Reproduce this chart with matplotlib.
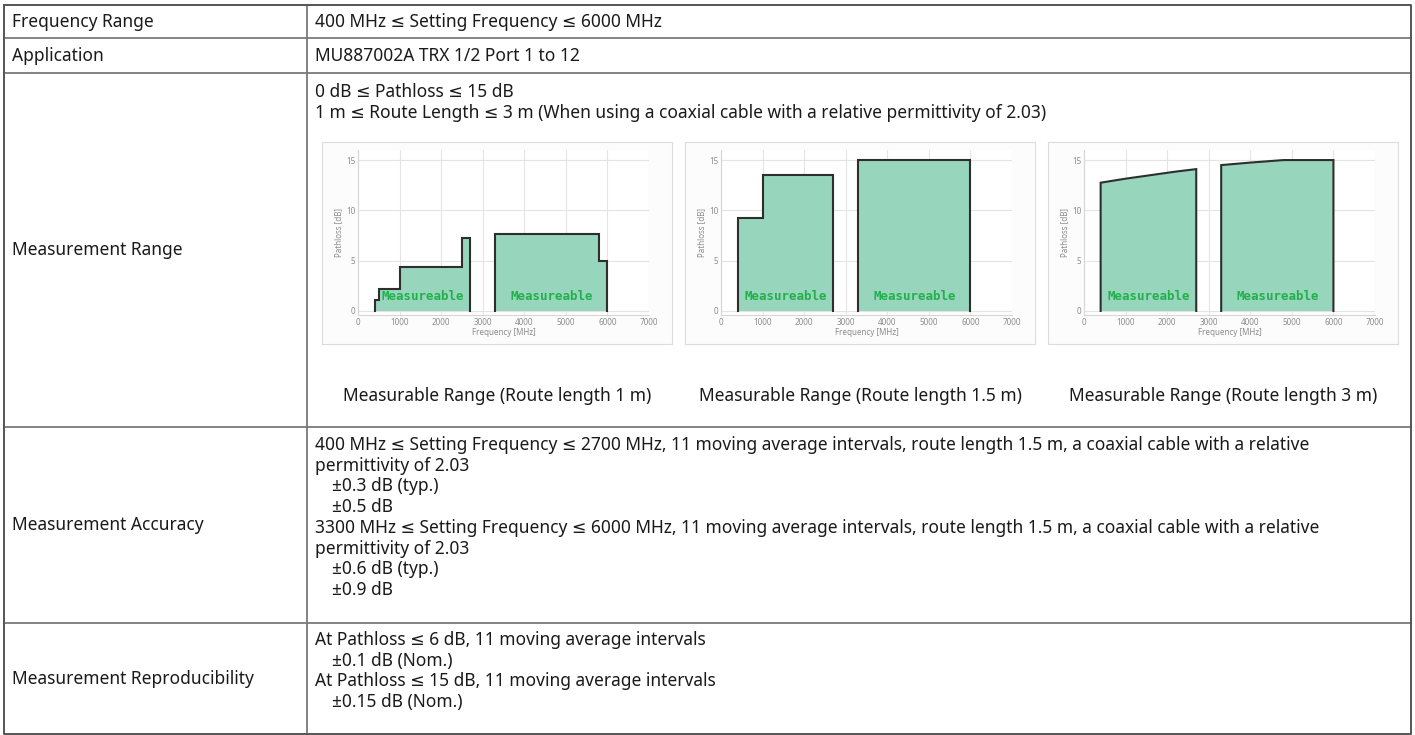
import matplotlib.pyplot as plt

W, H = 1415, 735
plt.rcParams['font.family'] = ['Noto Sans', 'DejaVu Sans']

row_labels = ["Frequency Range", "Application", "Measurement Range",
              "Measurement Accuracy", "Measurement Reproducibility"]
freq_range_lines = ["400 MHz ≤ Setting Frequency ≤ 6000 MHz"]
application_lines = ["MU887002A TRX 1/2 Port 1 to 12"]
range_lines = ["0 dB ≤ Pathloss ≤ 15 dB",
               "1 m ≤ Route Length ≤ 3 m (When using a coaxial cable with a relative permittivity of 2.03)"]
captions = ["Measurable Range (Route length 1 m)",
            "Measurable Range (Route length 1.5 m)",
            "Measurable Range (Route length 3 m)"]
accuracy_lines = [
    "400 MHz ≤ Setting Frequency ≤ 2700 MHz, 11 moving average intervals, route length 1.5 m, a coaxial cable with a relative",
    "permittivity of 2.03",
    "  ±0.3 dB (typ.)",
    "  ±0.5 dB",
    "3300 MHz ≤ Setting Frequency ≤ 6000 MHz, 11 moving average intervals, route length 1.5 m, a coaxial cable with a relative",
    "permittivity of 2.03",
    "  ±0.6 dB (typ.)",
    "  ±0.9 dB"]
repro_lines = ["At Pathloss ≤ 6 dB, 11 moving average intervals",
               "  ±0.1 dB (Nom.)",
               "At Pathloss ≤ 15 dB, 11 moving average intervals",
               "  ±0.15 dB (Nom.)"]

# chart axes
x_ticks = [0, 1000, 2000, 3000, 4000, 5000, 6000, 7000]
y_ticks = [0, 5, 10, 15]
region_text = "Measureable"

# route length 1 m (stepped limits)
m1_low_edges = [400, 500, 1000, 2500, 2700]
m1_low_levels = [1.1, 2.2, 4.4, 7.3]
m1_high_edges = [3300, 5800, 6000]
m1_high_levels = [7.7, 5.0]
# route length 1.5 m
m15_low_edges = [400, 1000, 2700]
m15_low_levels = [9.2, 13.5]
m15_high_edges = [3300, 6000]
m15_high_levels = [15.0]
# route length 3 m (smooth limits)
m3_low_freq = [400, 1000, 1600, 2200, 2700]
m3_low_loss = [12.75, 13.15, 13.5, 13.85, 14.1]
m3_high_freq = [3300, 4000, 4800, 6000]
m3_high_loss = [14.5, 14.75, 15.0, 15.0]


def step_outline(edges, levels):
    xs, ys = [edges[0]], [0]
    for i, lv in enumerate(levels):
        xs += [edges[i], edges[i + 1]]
        ys += [lv, lv]
    xs.append(edges[-1])
    ys.append(0)
    return xs, ys


def curve_outline(freq, loss):
    return [freq[0]] + freq + [freq[-1]], [0] + loss + [0]


charts = [
    [step_outline(m1_low_edges, m1_low_levels), step_outline(m1_high_edges, m1_high_levels)],
    [step_outline(m15_low_edges, m15_low_levels), step_outline(m15_high_edges, m15_high_levels)],
    [curve_outline(m3_low_freq, m3_low_loss), curve_outline(m3_high_freq, m3_high_loss)],
]


def frac(x, y, w, h):
    return [x / W, 1 - (y + h) / H, w / W, h / H]


fig = plt.figure(figsize=(W / 100, H / 100), dpi=100)
fig.patch.set_facecolor('white')

tab = fig.add_axes([0, 0, 1, 1])
tab.set_xlim(0, W)
tab.set_ylim(H, 0)
tab.axis('off')

left, right, top, bottom = 4, 1411, 5, 734
col = 307
row_lines = [38, 73, 427, 623]
line_c = '#7a7a7a'
for y in row_lines:
    tab.plot([left, right], [y, y], color=line_c, lw=1.3)
tab.plot([col, col], [top, bottom], color=line_c, lw=1.3)
tab.plot([left, right, right, left, left], [top, top, bottom, bottom, top], color='#555555', lw=1.4)

fs = 12.5
tc = '#1a1a1a'
label_y = [22, 56, 250, 525, 679]
for lab, y in zip(row_labels, label_y):
    tab.text(12, y, lab, fontsize=fs, color=tc, va='center', ha='left')


def put_lines(lines, y0, step=20.7):
    for i, s in enumerate(lines):
        x = 315
        if s.startswith('  '):
            x += 17
        tab.text(x, y0 + i * step, s.strip(), fontsize=fs, color=tc, va='center', ha='left')


put_lines(freq_range_lines, 22)
put_lines(application_lines, 56)
put_lines(range_lines, 92)
put_lines(accuracy_lines, 445)
put_lines(repro_lines, 640)

fill_c = '#97d5bd'
edge_c = '#2e2e2e'
tick_c = '#8c8c8c'
for i, regions in enumerate(charts):
    px = 322 + 363 * i
    pnl = fig.add_axes(frac(px, 142, 350, 202))
    pnl.set_facecolor('#fcfcfc')
    pnl.set_xticks([])
    pnl.set_yticks([])
    for sp in pnl.spines.values():
        sp.set_color('#dcdcdc')
        sp.set_linewidth(0.8)

    ax = fig.add_axes(frac(px + 36, 150, 291, 165))
    ax.set_facecolor('white')
    ax.set_xlim(0, 7000)
    ax.set_ylim(-0.4, 16)
    ax.set_xticks(x_ticks)
    ax.set_yticks(y_ticks)
    ax.grid(color='#e4e4e4', lw=0.8)
    ax.set_axisbelow(True)
    ax.tick_params(labelsize=5.8, colors=tick_c, length=0, pad=2)
    for side in ['top', 'right']:
        ax.spines[side].set_visible(False)
    for side in ['left', 'bottom']:
        ax.spines[side].set_color('#d6d6d6')
        ax.spines[side].set_linewidth(0.8)
    ax.set_xlabel("Frequency [MHz]", fontsize=5.8, color=tick_c, labelpad=1)
    ax.set_ylabel("Pathloss [dB]", fontsize=5.8, color=tick_c, labelpad=2)
    for xs, ys in regions:
        ax.fill(xs, ys, color=fill_c, lw=0)
        ax.plot(xs, ys, color=edge_c, lw=1.5, solid_joinstyle='miter')
        ax.text((xs[0] + xs[-1]) / 2, 1.4, region_text, ha='center', va='center',
                fontsize=9, fontweight='bold', family='DejaVu Sans Mono', color='#22b04b')

    tab.text(px + 175, 396, captions[i], fontsize=fs, color=tc, ha='center', va='center')

fig.savefig('out.png', dpi=100)
